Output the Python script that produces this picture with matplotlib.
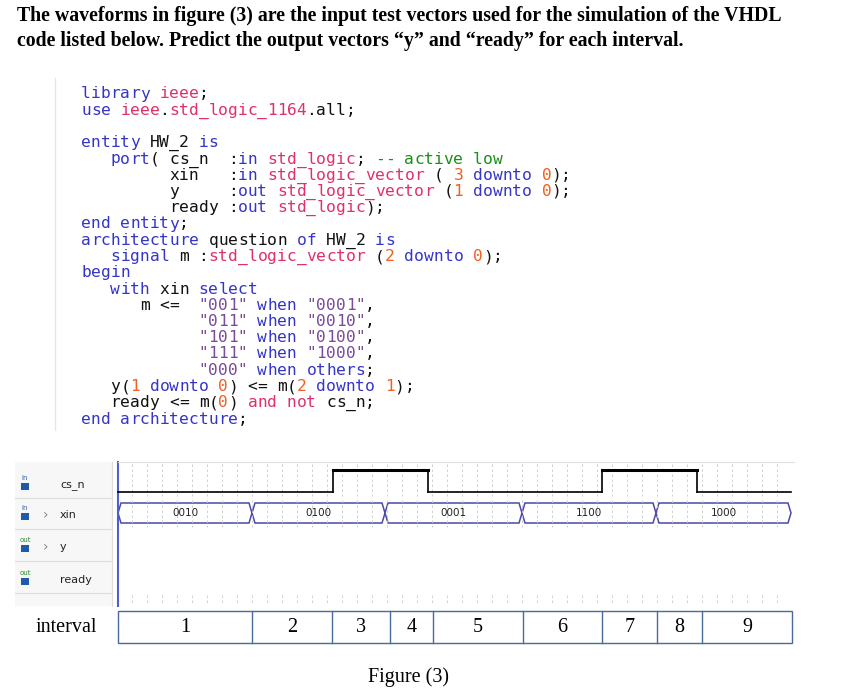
import matplotlib
matplotlib.use("Agg")
import matplotlib.pyplot as plt
from matplotlib.patches import Rectangle, Polygon

title_lines = ["The waveforms in figure (3) are the input test vectors used for the simulation of the VHDL",
               "code listed below. Predict the output vectors \u201cy\u201d and \u201cready\u201d for each interval."]
signal_names = ["cs_n", "xin", "y", "ready"]
csn_edges = [118, 333, 428, 602, 697, 791]
csn_levels = [0, 1, 0, 1, 0]
xin_edges = [118, 252, 385, 522, 656, 791]
xin_values = ["0010", "0100", "0001", "1100", "1000"]
interval_edges = [118, 252, 332, 390, 433, 523, 602, 657, 702, 792]
interval_labels = ["1", "2", "3", "4", "5", "6", "7", "8", "9"]

B = "#3535c8"; R = "#e0306a"; O = "#f06020"; G = "#1a8f1a"; P = "#7a4a9a"; K = "#111111"
code = [
    [("library ", B), ("ieee", R), (";", K)],
    [("use ", B), ("ieee", R), (".", K), ("std_logic_1164", R), (".all;", K)],
    [],
    [("entity ", B), ("HW_2 ", K), ("is", B)],
    [("   port", B), ("( cs_n  :", K), ("in ", B), ("std_logic", R), ("; ", K), ("-- active low", G)],
    [("         xin   :", K), ("in ", B), ("std_logic_vector", R), (" ( ", K), ("3", O), (" downto ", B), ("0", O), (");", K)],
    [("         y     :", K), ("out ", B), ("std_logic_vector", R), (" (", K), ("1", O), (" downto ", B), ("0", O), (");", K)],
    [("         ready :", K), ("out ", B), ("std_logic", R), (");", K)],
    [("end entity", B), (";", K)],
    [("architecture ", B), ("question ", K), ("of ", B), ("HW_2 ", K), ("is", B)],
    [("   signal ", B), ("m :", K), ("std_logic_vector", R), (" (", K), ("2", O), (" downto ", B), ("0", O), (");", K)],
    [("begin", B)],
    [("   with ", B), ("xin ", K), ("select", B)],
    [("      m <=  ", K), ('"001"', P), (" when ", B), ('"0001"', P), (",", K)],
    [("            ", K), ('"011"', P), (" when ", B), ('"0010"', P), (",", K)],
    [("            ", K), ('"101"', P), (" when ", B), ('"0100"', P), (",", K)],
    [("            ", K), ('"111"', P), (" when ", B), ('"1000"', P), (",", K)],
    [("            ", K), ('"000"', P), (" when ", B), ("others", B), (";", K)],
    [("   y(", K), ("1", O), (" downto ", B), ("0", O), (") <= m(", K), ("2", O), (" downto ", B), ("1", O), (");", K)],
    [("   ready <= m(", K), ("0", O), (") ", K), ("and not ", R), ("cs_n;", K)],
    [("end architecture", B), (";", K)],
]

fig = plt.figure(figsize=(8.64, 6.98), dpi=100)
ax = fig.add_axes([0, 0, 1, 1])
ax.set_xlim(0, 864); ax.set_ylim(698, 0); ax.axis("off")

serif = "Liberation Serif"
for i, t in enumerate(title_lines):
    ax.text(17, 16 + i * 25, t, family=serif, fontsize=14.3, weight="bold", va="center", ha="left")

# code: each glyph placed in its monospace cell
x0, y0, cw, lh = 81, 93, 9.8, 16.25
fs = cw / 0.602 * 72 / 100
ax.plot([55, 55], [78, 430], color="#e6e6e6", lw=1)
for li, segs in enumerate(code):
    col = 0
    base = y0 + li * lh + 5.5
    for txt, c in segs:
        for ch in txt:
            if ch != " ":
                ax.text(x0 + (col + 0.5) * cw, base, ch, family="DejaVu Sans Mono", fontsize=fs,
                        color=c, va="baseline", ha="center")
            col += 1

# waveform panel
L, Rr, top, bot = 118, 791, 462, 606
ax.add_patch(Rectangle((15, top), 97, bot - top, facecolor="#f7f7f7", edgecolor="none"))
rows = [(462, 498), (498, 529), (529, 561), (561, 593), (593, 606)]
for y in [498, 529, 561, 593]:
    ax.plot([15, 112], [y, y], color="#dddddd", lw=0.8)
ax.plot([112, 112], [top, bot], color="#dddddd", lw=0.8)
ax.plot([L, L], [top, bot], color="#4f5fd0", lw=1.5)
gx = L + 14
while gx < Rr:
    for (a, b) in [rows[0], rows[1], rows[4]]:
        ax.plot([gx, gx], [a + 2, b - 2], color="#c8c8c8", lw=0.6, ls=(0, (3, 3)))
    gx += 15
ax.plot([L, Rr + 3], [top, top], color="#e0e0e0", lw=0.8)

label_y = [485, 515, 547, 580]
for name, yy in zip(signal_names, label_y):
    ax.text(60, yy, name, family="DejaVu Sans", fontsize=8, va="center", ha="left", color="#222222")
    ax.add_patch(Rectangle((21, yy - 2), 8, 7, facecolor="#1f5aa6", edgecolor="none"))
    ax.text(25, yy - 7, "out" if name in ("y", "ready") else "in", fontsize=5,
            color="#2e8b2e" if name in ("y", "ready") else "#1f5aa6", ha="center", va="center")
for yy in [515, 547]:
    ax.text(46, yy, "\u203a", fontsize=10, color="#888888", va="center", ha="center")

# cs_n
hi, lo = 470, 492
for i, lv in enumerate(csn_levels):
    yv = hi if lv else lo
    ax.plot([csn_edges[i], csn_edges[i + 1]], [yv, yv], color="black", lw=2.2 if lv else 1.2)
    if i > 0:
        ax.plot([csn_edges[i], csn_edges[i]], [hi, lo], color="black", lw=1.2)

# xin bus
bt, bb, bm, d = 503, 523, 513, 3
for i, v in enumerate(xin_values):
    a, b = xin_edges[i], xin_edges[i + 1]
    pts = [(a, bm), (a + d, bt), (b - d, bt), (b, bm), (b - d, bb), (a + d, bb)]
    ax.add_patch(Polygon(pts, closed=True, facecolor="white", edgecolor="#4a4aa8", lw=1.1))
    ax.text((a + b) / 2, bm, v, fontsize=7.5, ha="center", va="center", color="#222222")

# interval table
it, ib = 611, 643
ax.add_patch(Rectangle((interval_edges[0], it), interval_edges[-1] - interval_edges[0], ib - it,
                       facecolor="none", edgecolor="#4a6a9a", lw=1))
for e in interval_edges[1:-1]:
    ax.plot([e, e], [it, ib], color="#4a6a9a", lw=1)
for i, lab in enumerate(interval_labels):
    ax.text((interval_edges[i] + interval_edges[i + 1]) / 2, 627, lab, family=serif, fontsize=14.5,
            ha="center", va="center")
ax.text(36, 627, "interval", family=serif, fontsize=14.5, ha="left", va="center")
ax.text(408, 677, "Figure (3)", family=serif, fontsize=14.5, ha="center", va="center")

fig.savefig("out.png", dpi=100)
